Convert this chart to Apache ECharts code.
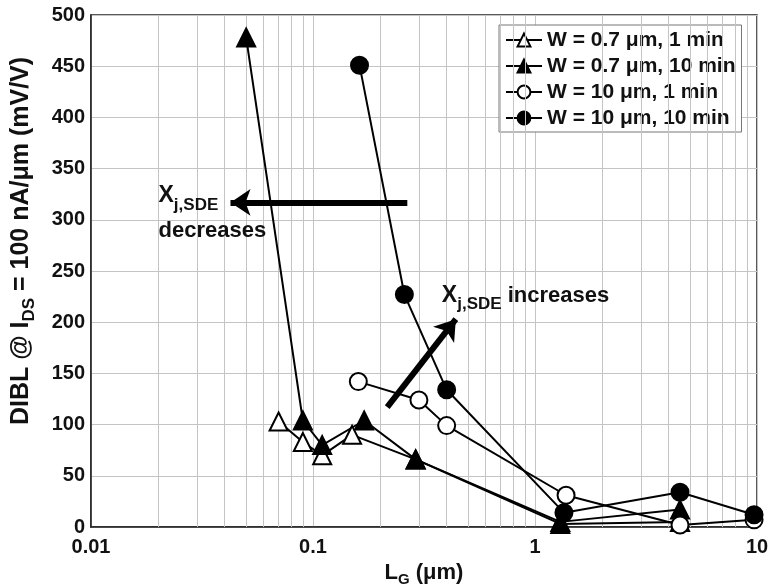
<!DOCTYPE html>
<html><head><meta charset="utf-8">
<script src="https://cdn.jsdelivr.net/npm/echarts@6/dist/echarts.min.js"></script>
<style>html,body{margin:0;padding:0;background:#fff}#c{width:771px;height:588px}</style>
</head><body><div id="c"></div>
<script>
var seriesNames = ['W = 0.7 μm, 1 min', 'W = 0.7 μm, 10 min', 'W = 10 μm, 1 min', 'W = 10 μm, 10 min'];
var lgOpenTri = [0.07, 0.09, 0.11, 0.15, 0.29, 1.3, 4.5];
var dbOpenTri = [103, 83, 70, 90, 66, 3, 5];
var lgFillTri = [0.05, 0.09, 0.11, 0.17, 0.29, 1.3, 4.5];
var dbFillTri = [478, 104, 80, 104, 66, 5, 17];
var lgOpenCir = [0.16, 0.30, 0.40, 1.38, 4.5, 9.7];
var dbOpenCir = [142, 124, 99, 31, 2, 7];
var lgFillCir = [0.162, 0.258, 0.40, 1.35, 4.5, 9.7];
var dbFillCir = [451, 227, 134, 14, 34, 12];
var minorTicks = [0.02,0.03,0.04,0.05,0.06,0.07,0.08,0.09,0.2,0.3,0.4,0.5,0.6,0.7,0.8,0.9,2,3,4,5,6,7,8,9];
var arrow1 = [[0.266, 317], [0.0425, 317]];
var arrow2 = [[0.216, 117], [0.44, 203]];

function pairs(xs, ys){ return xs.map(function(x,i){return [x, ys[i]];}); }
var FONT = 'Liberation Sans, Arial, sans-serif';
function mkSeries(name, xs, ys, symbol, filled){
  return {
    name: name, type: 'line', data: pairs(xs, ys),
    symbol: symbol, symbolSize: symbol === 'circle' ? 17 : 18,
    lineStyle: {color: '#000', width: 2},
    itemStyle: {color: filled ? '#000' : '#fff', borderColor: '#000', borderWidth: 2},
    emphasis: {disabled: true}, z: 5
  };
}
var chart = echarts.init(document.getElementById('c'));
var series = [
  mkSeries(seriesNames[0], lgOpenTri, dbOpenTri, 'triangle', false),
  mkSeries(seriesNames[1], lgFillTri, dbFillTri, 'triangle', true),
  mkSeries(seriesNames[2], lgOpenCir, dbOpenCir, 'circle', false),
  mkSeries(seriesNames[3], lgFillCir, dbFillCir, 'circle', true),
  {
    type: 'line', data: [], silent: true, z: 1,
    markLine: {
      silent: true, symbol: 'none', label: {show: false},
      lineStyle: {color: '#c4c4c4', width: 1, type: 'solid'},
      data: minorTicks.map(function(v){return {xAxis: v};})
    }
  },
  {
    type: 'line', data: [], silent: true, z: 6,
    markLine: {
      silent: true, symbol: ['none', 'arrow'], symbolSize: [20, 20], label: {show: false},
      lineStyle: {color: '#000', width: 6, type: 'solid'},
      data: [
        [{coord: arrow1[0]}, {coord: arrow1[1]}],
        [{coord: arrow2[0]}, {coord: arrow2[1]}]
      ]
    }
  }
];
var tickFont = {color: '#111', fontFamily: FONT, fontWeight: 'bold', fontSize: 20};
chart.setOption({
  animation: false,
  backgroundColor: '#fff',
  grid: {left: 91, right: 14, top: 15, bottom: 61, show: true, borderColor: '#222', borderWidth: 1.5,
         containLabel: false, outerBoundsMode: 'none'},
  xAxis: {
    type: 'log', min: 0.01, max: 10, logBase: 10,
    axisLine: {lineStyle: {color: '#222', width: 1.5}},
    axisTick: {show: false},
    splitLine: {show: true, lineStyle: {color: '#c4c4c4', width: 1}},
    axisLabel: Object.assign({margin: 10,
      formatter: function(v){ return String(+(+v).toPrecision(3)); }}, tickFont),
    name: '{m|L}{s|G}{m| (μm)}', nameLocation: 'middle', nameGap: 29,
    nameTextStyle: {rich: {
      m: {fontFamily: FONT, fontWeight: 'bold', fontSize: 22, color: '#111'},
      s: {fontFamily: FONT, fontWeight: 'bold', fontSize: 15, color: '#111', verticalAlign: 'bottom', padding: [14,0,0,0]}
    }}
  },
  yAxis: {
    type: 'value', min: 0, max: 500, interval: 50,
    axisLine: {lineStyle: {color: '#222', width: 1.5}},
    axisTick: {show: false},
    splitLine: {show: true, lineStyle: {color: '#c4c4c4', width: 1}},
    axisLabel: Object.assign({margin: 6}, tickFont),
    name: '{m|DIBL @ I}{s|DS}{m| = 100 nA/μm (mV/V)}', nameLocation: 'middle', nameGap: 53, nameRotate: 90,
    nameTextStyle: {padding: [0, 0, 0, 60], rich: {
      m: {fontFamily: FONT, fontWeight: 'bold', fontSize: 25, color: '#111'},
      s: {fontFamily: FONT, fontWeight: 'bold', fontSize: 17, color: '#111', verticalAlign: 'bottom', padding: [16,0,0,0]}
    }}
  },
  legend: {
    show: true, data: seriesNames, orient: 'vertical', left: 499, top: 25,
    backgroundColor: '#fff', borderColor: '#777', borderWidth: 1, padding: [4, 6, 3, 6],
    itemGap: 4, itemWidth: 36, itemHeight: 16,
    textStyle: {fontFamily: FONT, fontWeight: 'bold', fontSize: 21, color: '#111', lineHeight: 22},
    itemStyle: {borderWidth: 2}
  },
  series: series
});
function place(){
  var p1 = chart.convertToPixel({xAxisIndex: 0, yAxisIndex: 0}, arrow1[1]);
  var p2 = chart.convertToPixel({xAxisIndex: 0, yAxisIndex: 0}, arrow2[1]);
  var rich = {
    x: {fontFamily: FONT, fontWeight: 'bold', fontSize: 23, fill: '#111'},
    s: {fontFamily: FONT, fontWeight: 'bold', fontSize: 17, fill: '#111', padding: [18,0,0,0]},
    t: {fontFamily: FONT, fontWeight: 'bold', fontSize: 22, fill: '#111'}
  };
  chart.setOption({graphic: [
    {type: 'text', left: p1[0] - 72, top: p1[1] - 18, style: {text: '{x|X}{s|j,SDE}', rich: rich}, z: 10},
    {type: 'text', left: p1[0] - 72, top: p1[1] + 18, style: {text: '{t|decreases}', rich: rich}, z: 10},
    {type: 'text', left: p2[0] - 14, top: p2[1] - 35, style: {text: '{x|X}{s|j,SDE}{t| increases}', rich: rich}, z: 10}
  ]});
}
place();
</script></body></html>
